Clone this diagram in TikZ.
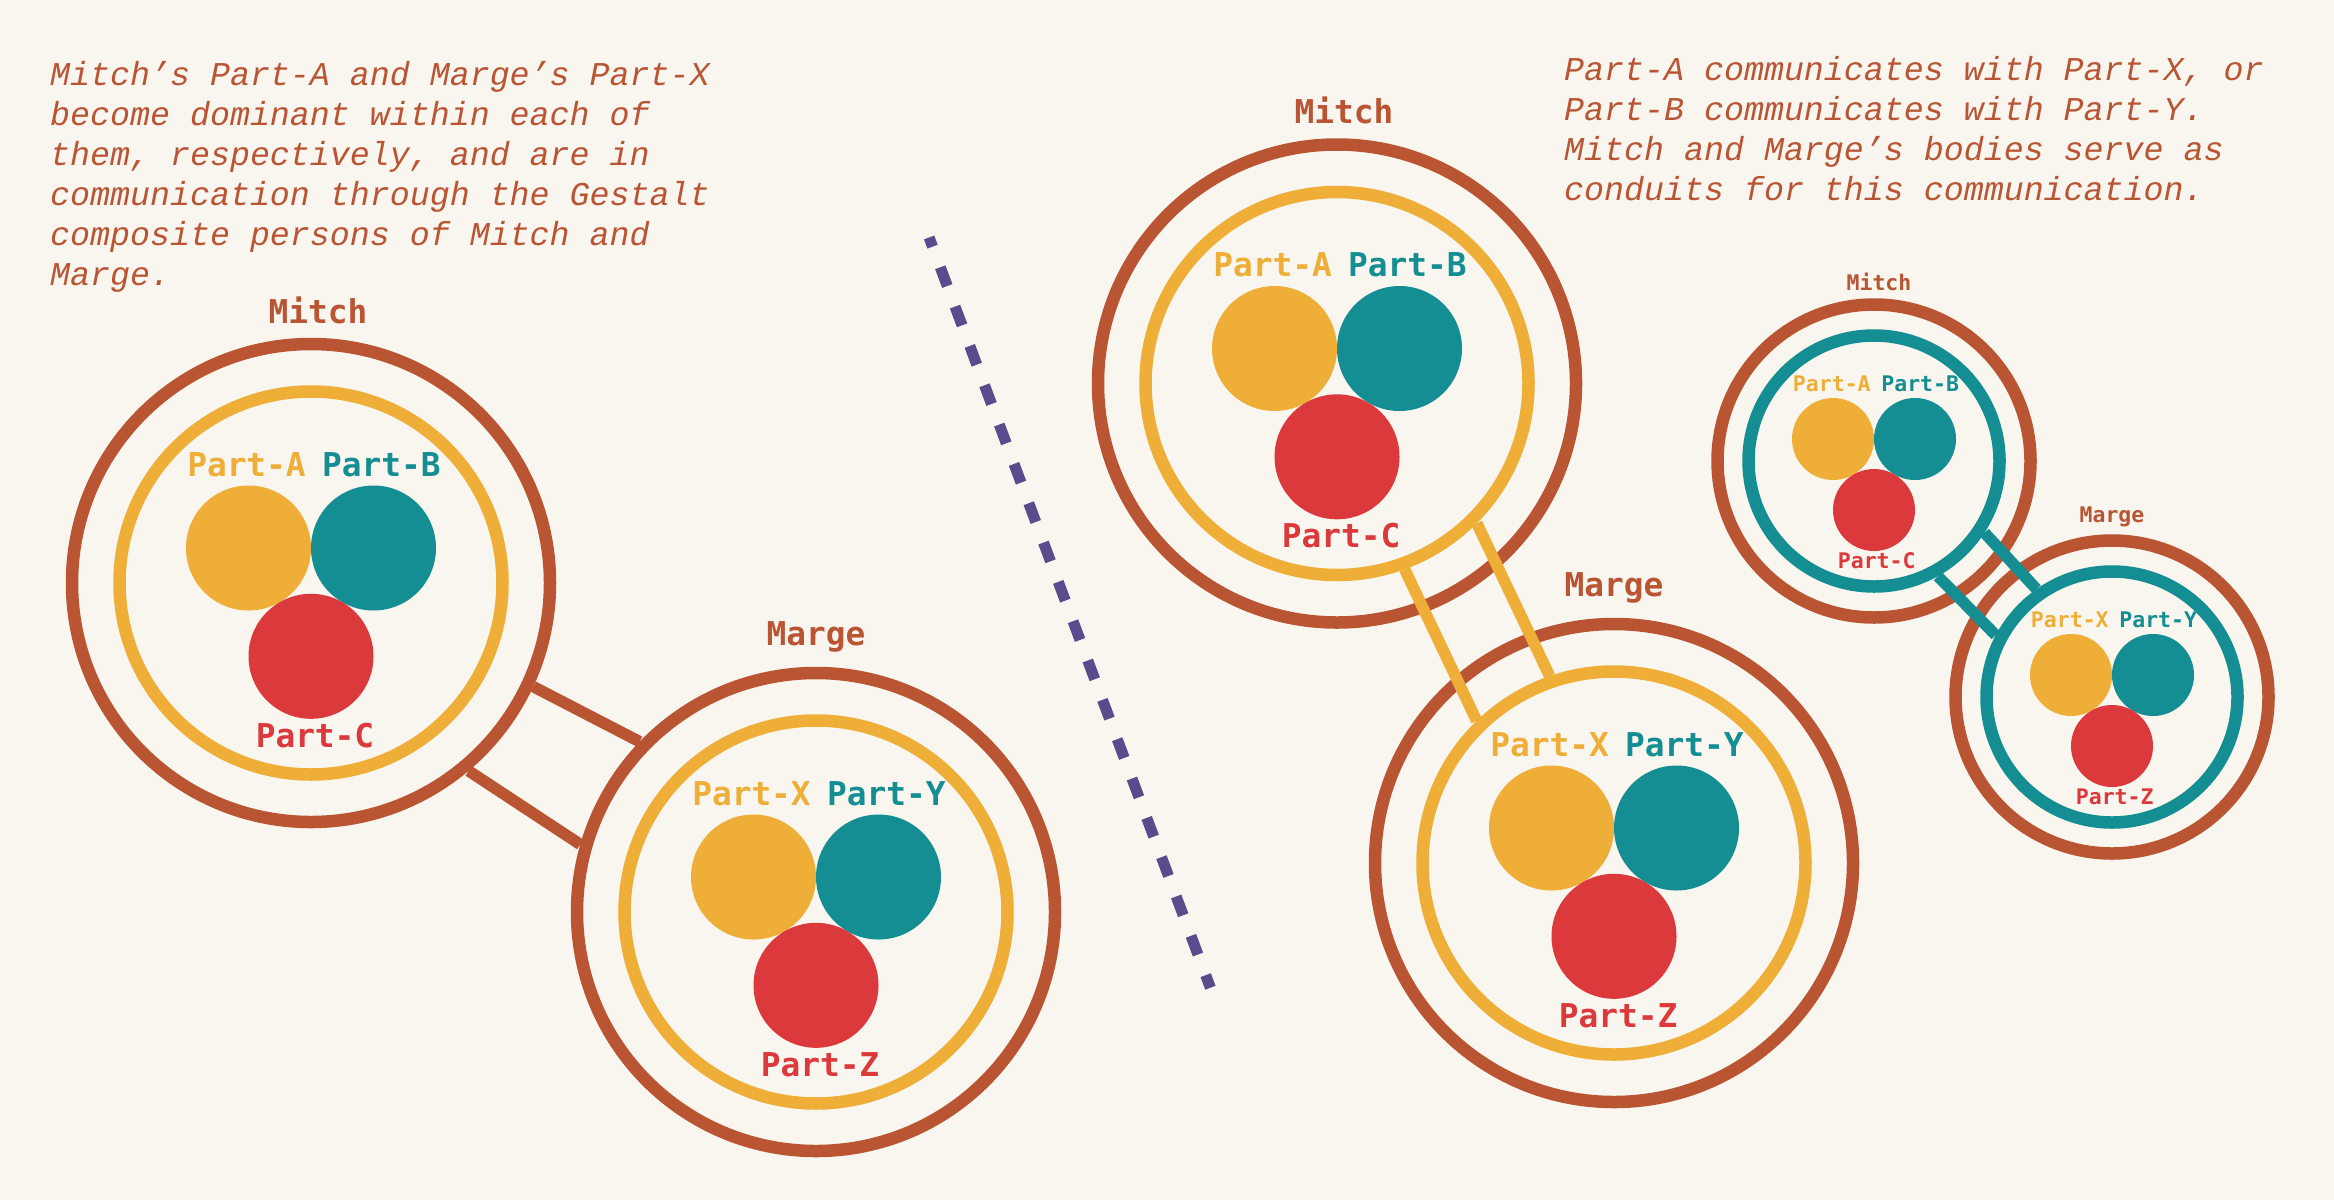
\documentclass[tikz,border=0pt]{standalone}
\usepackage{fontspec}
\setmonofont{DejaVu Sans Mono}
\newfontfamily\notefont{Liberation Mono}
\usepackage{xcolor}
\usepackage{tikz}
\usetikzlibrary{positioning, calc}
\definecolor{paper}{HTML}{F9F6EF}
\definecolor{rust}{HTML}{BA5534}
\definecolor{amber}{HTML}{EFAE37}
\definecolor{partteal}{HTML}{148E92}
\definecolor{crimson}{HTML}{DC393C}
\definecolor{divider}{HTML}{594C8C}

\begin{document}
\begin{tikzpicture}[
  x=1pt, y=-1pt,
  ring/.style={circle, draw, line width=12.5pt, inner sep=0pt, minimum size=478pt},
  inring/.style={ring, minimum size=383pt},
  sring/.style={ring, minimum size=313pt},
  sinring/.style={ring, minimum size=251pt},
  part/.style={circle, inner sep=0pt, minimum size=125pt},
  spart/.style={part, minimum size=82pt},
  lbl/.style={anchor=base, inner sep=0pt, font=\ttfamily\bfseries\fontsize{32.8}{36}\selectfont},
  slbl/.style={lbl, font=\ttfamily\bfseries\fontsize{21.5}{24}\selectfont},
  title/.style={lbl, anchor=south, text=rust},
  stitle/.style={title, font=\ttfamily\bfseries\fontsize{21.5}{24}\selectfont},
  link/.style={line width=11.5pt},
  cut/.style={divider, line width=11pt, dash pattern=on 20pt off 22pt, dash phase=10.2pt},
  note/.style={anchor=base west, inner sep=0pt, align=left, text=rust,
    font=\notefont\itshape\fontsize{33.3}{40}\selectfont}
]
  \fill[paper] (0,0) rectangle (2334,1200);
  \useasboundingbox (0,0) rectangle (2334,1200);

  \node[note] (noteL) at (50,285) {Mitch’s Part-A and Marge’s Part-X\\become dominant within each of\\them, respectively, and are in\\communication through the Gestalt\\composite persons of Mitch and\\Marge.};
  \node[note] (noteR) at (1564,200) {Part-A communicates with Part-X, or\\Part-B communicates with Part-Y.\\Mitch and Marge’s bodies serve as\\conduits for this communication.};

  % left pair
  \node[ring, draw=rust] (mitchL) at (311,583) {};
  \node[inring, draw=amber] (mitchLin) at (mitchL) {};
  \node[part, fill=amber] (aL) at ($(mitchL)+(-62.5,-35)$) {};
  \node[part, fill=partteal] (bL) at ($(mitchL)+(62.5,-35)$) {};
  \node[part, fill=crimson] (cL) at ($(mitchL)+(0,73.3)$) {};
  \node[lbl, text=amber] (aLtxt) at ($(mitchL)+(-64.5,-107)$) {Part-A};
  \node[lbl, text=partteal] (bLtxt) at ($(mitchL)+(70.3,-107)$) {Part-B};
  \node[lbl, text=crimson] (cLtxt) at ($(mitchL)+(4,164)$) {Part-C};
  \node[title, above=14pt of mitchL, xshift=7pt] (mitchLname) {Mitch};

  \node[ring, draw=rust] (margeL) at (816,912) {};
  \node[inring, draw=amber] (margeLin) at (margeL) {};
  \node[part, fill=amber] (xL) at ($(margeL)+(-62.5,-35)$) {};
  \node[part, fill=partteal] (yL) at ($(margeL)+(62.5,-35)$) {};
  \node[part, fill=crimson] (zL) at ($(margeL)+(0,73.3)$) {};
  \node[lbl, text=amber] (xLtxt) at ($(margeL)+(-64.5,-107)$) {Part-X};
  \node[lbl, text=partteal] (yLtxt) at ($(margeL)+(70.3,-107)$) {Part-Y};
  \node[lbl, text=crimson] (zLtxt) at ($(margeL)+(4,164)$) {Part-Z};
  \node[title, above=14pt of margeL] (margeLname) {Marge};

  \draw[link, rust] (mitchL.-25.3) -- (margeL.136.4);
  \draw[link, rust] (mitchL.-50.2) -- (margeL.164);

  % divider
  \coordinate (cutTop) at (929.1,237.5);
  \coordinate (cutBot) at (1210.4,987.7);
  \draw[cut] (cutTop) -- (cutBot);

  % middle pair
  \node[ring, draw=rust] (mitchM) at (1337,383.5) {};
  \node[inring, draw=amber] (mitchMin) at (mitchM) {};
  \node[part, fill=amber] (aM) at ($(mitchM)+(-62.5,-35)$) {};
  \node[part, fill=partteal] (bM) at ($(mitchM)+(62.5,-35)$) {};
  \node[part, fill=crimson] (cM) at ($(mitchM)+(0,73.3)$) {};
  \node[lbl, text=amber] (aMtxt) at ($(mitchM)+(-64.5,-107)$) {Part-A};
  \node[lbl, text=partteal] (bMtxt) at ($(mitchM)+(70.3,-107)$) {Part-B};
  \node[lbl, text=crimson] (cMtxt) at ($(mitchM)+(4,164)$) {Part-C};
  \node[title, above=14pt of mitchM, xshift=7pt] (mitchMname) {Mitch};

  \node[ring, draw=rust] (margeM) at (1614,863) {};
  \node[inring, draw=amber] (margeMin) at (margeM) {};
  \node[part, fill=amber] (xM) at ($(margeM)+(-62.5,-35)$) {};
  \node[part, fill=partteal] (yM) at ($(margeM)+(62.5,-35)$) {};
  \node[part, fill=crimson] (zM) at ($(margeM)+(0,73.3)$) {};
  \node[lbl, text=amber] (xMtxt) at ($(margeM)+(-64.5,-107)$) {Part-X};
  \node[lbl, text=partteal] (yMtxt) at ($(margeM)+(70.3,-107)$) {Part-Y};
  \node[lbl, text=crimson] (zMtxt) at ($(margeM)+(4,164)$) {Part-Z};
  \node[title, above=14pt of margeM] (margeMname) {Marge};

  \draw[link, amber] (mitchMin.-45.7) -- (margeMin.109.2);
  \draw[link, amber] (mitchMin.-70.5) -- (margeMin.134.3);

  % small pair
  \node[sring, draw=rust] (mitchS) at (1874,461) {};
  \node[sinring, draw=partteal] (mitchSin) at (mitchS) {};
  \node[spart, fill=amber] (aS) at ($(mitchS)+(-41,-22)$) {};
  \node[spart, fill=partteal] (bS) at ($(mitchS)+(41,-22)$) {};
  \node[spart, fill=crimson] (cS) at ($(mitchS)+(0,49)$) {};
  \node[slbl, text=amber] (aStxt) at ($(mitchS)+(-42.2,-69.5)$) {Part-A};
  \node[slbl, text=partteal] (bStxt) at ($(mitchS)+(46.2,-69.5)$) {Part-B};
  \node[slbl, text=crimson] (cStxt) at ($(mitchS)+(2.7,107.3)$) {Part-C};
  \node[stitle, above=7pt of mitchS, xshift=5pt] (mitchSname) {Mitch};

  \node[sring, draw=rust] (margeS) at (2112,697) {};
  \node[sinring, draw=partteal] (margeSin) at (margeS) {};
  \node[spart, fill=amber] (xS) at ($(margeS)+(-41,-22)$) {};
  \node[spart, fill=partteal] (yS) at ($(margeS)+(41,-22)$) {};
  \node[spart, fill=crimson] (zS) at ($(margeS)+(0,49)$) {};
  \node[slbl, text=amber] (xStxt) at ($(margeS)+(-42.2,-69.5)$) {Part-X};
  \node[slbl, text=partteal] (yStxt) at ($(margeS)+(46.2,-69.5)$) {Part-Y};
  \node[slbl, text=crimson] (zStxt) at ($(margeS)+(2.7,107.3)$) {Part-Z};
  \node[stitle, above=7pt of margeS] (margeSname) {Marge};

  \draw[link, partteal] (mitchSin.-33.2) -- (margeSin.125);
  \draw[link, partteal] (mitchSin.-61.7) -- (margeSin.152.4);
\end{tikzpicture}
\end{document}
